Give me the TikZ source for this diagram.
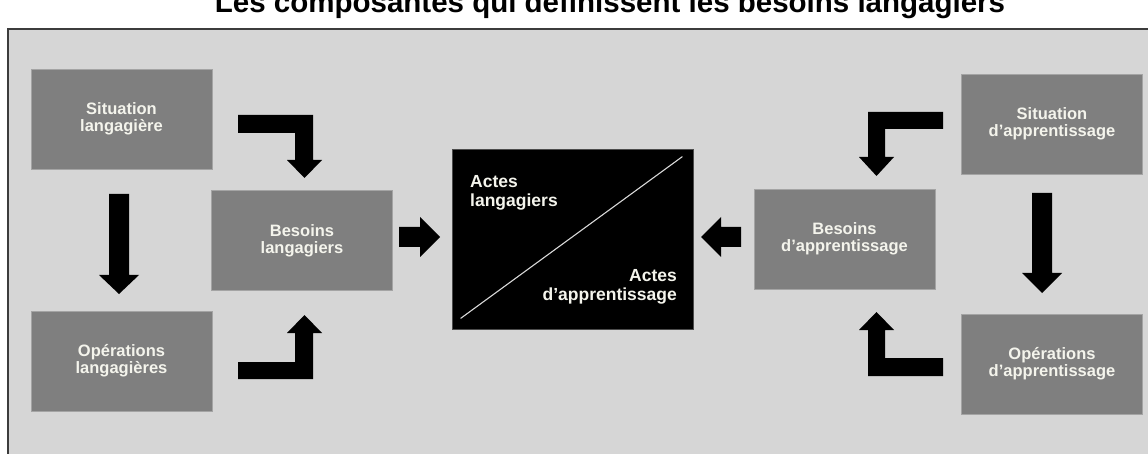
\documentclass[tikz,border=0pt]{standalone}
\usepackage{fontspec}
\setmainfont{Liberation Sans}
\definecolor{panelc}{HTML}{D6D6D6}
\definecolor{borderc}{HTML}{3C3C3C}
\definecolor{boxc}{HTML}{7F7F7F}
\definecolor{boxedge}{HTML}{A4A4A4}
\definecolor{txtc}{HTML}{F4F4EC}
\tikzset{
  gbox/.style={fill=boxc, draw=boxedge, line width=0.8pt, minimum width=181pt, minimum height=100pt,
    inner sep=0pt, align=center, text=txtc, font=\bfseries\fontsize{16.5}{17}\selectfont},
  blackbox/.style={fill=black, draw=black!70, line width=0.8pt, minimum width=241pt, minimum height=180pt, inner sep=0pt},
  btxt/.style={inner sep=0pt, text=txtc, font=\bfseries\fontsize{17.5}{19}\selectfont},
  blockarrow/.style={fill=black, draw=none},
  titletxt/.style={inner sep=0pt, font=\bfseries\fontsize{29.5}{30}\selectfont}
}
\begin{document}
\begin{tikzpicture}[x=1pt,y=-1pt]
\useasboundingbox (0,0) rectangle (1148,454);
\clip (0,0) rectangle (1148,454);
% title
\node[titletxt, anchor=base] (title) at (610,13) {Les composantes qui définissent les besoins langagiers};
% panel
\fill[panelc] (8,29) rectangle (1152,458);
\draw[borderc, line width=2pt] (8,458) -- (8,29);
\draw[borderc, line width=1.4pt] (7,29) -- (1152,29);
% left boxes
\node[gbox] (sl) at (121.5,119) {Situation\\langagière};
\node[gbox] (bl) at (302,240.5) {Besoins\\langagiers};
\node[gbox] (ol) at (121.5,361) {Opérations\\langagières};
% right boxes
\node[gbox] (sa) at (1052,124) {Situation\\d’apprentissage};
\node[gbox] (ba) at (844.5,239) {Besoins\\d’apprentissage};
\node[gbox] (oa) at (1052,364) {Opérations\\d’apprentissage};
% central box
\node[blackbox] (act) at (572.5,239) {};
\draw[white!85!black, line width=1.1pt] ([shift={(9,-11)}]act.south west) -- ([shift={(-11,8)}]act.north east);
\node[btxt, anchor=north west, align=left] (al) at (470,175.5) {Actes\\langagiers};
\node[btxt, anchor=north east, align=right] (aa) at (677,269.5) {Actes\\d’apprentissage};
% block arrows, left side
\fill[blockarrow] (238,115) -- (313,115) -- (313,160) -- (322,160) -- (304.5,178) -- (287,160) -- (295,160) -- (295,133) -- (238,133) -- cycle;
\fill[blockarrow] (238,379) -- (313,379) -- (313,333) -- (322,333) -- (304.5,315) -- (287,333) -- (295,333) -- (295,362) -- (238,362) -- cycle;
\fill[blockarrow] (109,194) -- (129,194) -- (129,275) -- (139,275) -- (119,294) -- (99,275) -- (109,275) -- cycle;
\fill[blockarrow] (399,227) -- (420,227) -- (420,217) -- (440,237) -- (420,257) -- (420,247) -- (399,247) -- cycle;
% block arrows, right side
\fill[blockarrow] (943,112) -- (868,112) -- (868,157) -- (859,157) -- (876.5,176) -- (894,157) -- (885,157) -- (885,129) -- (943,129) -- cycle;
\fill[blockarrow] (943,376) -- (868,376) -- (868,330) -- (859,330) -- (876.5,312) -- (894,330) -- (885,330) -- (885,358) -- (943,358) -- cycle;
\fill[blockarrow] (1032,193) -- (1052,193) -- (1052,273) -- (1062,273) -- (1042,293) -- (1022,273) -- (1032,273) -- cycle;
\fill[blockarrow] (741,227) -- (721,227) -- (721,217) -- (701,237) -- (721,257) -- (721,247) -- (741,247) -- cycle;
\end{tikzpicture}
\end{document}
